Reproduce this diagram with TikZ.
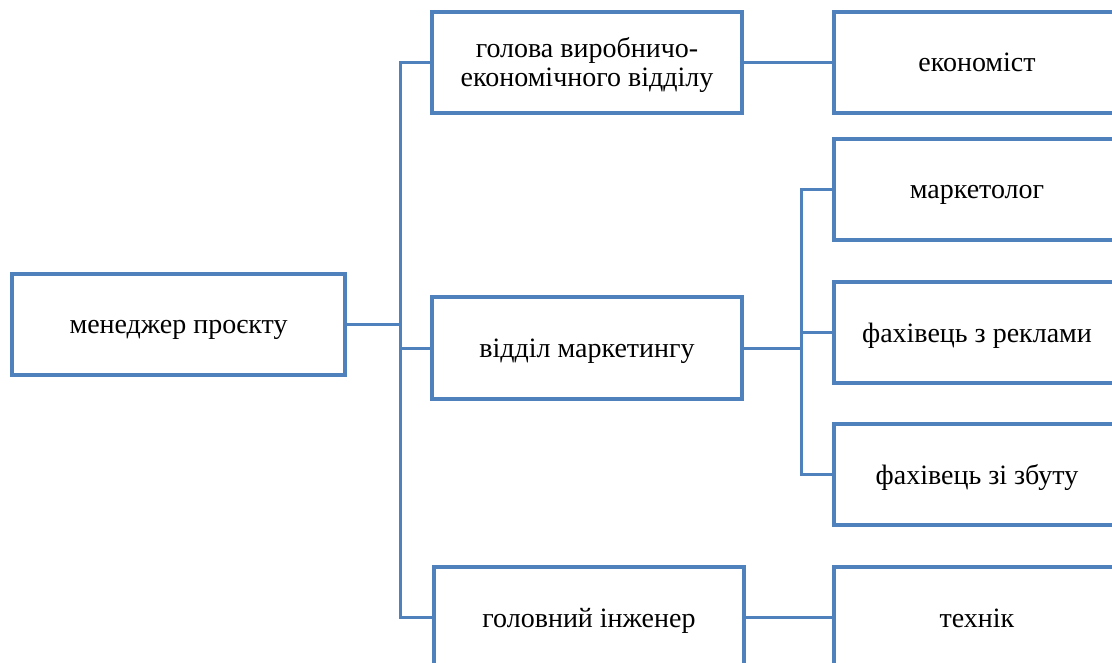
\documentclass[tikz,border=0pt]{standalone}
\usepackage{fontspec}
\setmainfont{Liberation Serif}
\definecolor{boxblue}{RGB}{79,129,189}
\begin{document}
\begin{tikzpicture}[x=1pt,y=-1pt,
  box/.style={draw=boxblue,line width=4pt,fill=white,minimum height=101pt,
    inner sep=0pt,outer sep=0pt,font=\fontsize{28}{29}\selectfont,
    text height=19pt,text depth=0pt},
  rootbox/.style={box,minimum width=333pt},
  midbox/.style={box,minimum width=310pt},
  leafbox/.style={box,minimum width=286pt},
  link/.style={draw=boxblue,line width=3pt}]
\useasboundingbox (0,0) rectangle (1112,663);
\clip (0,0) rectangle (1112,663);

% boxes
\node[rootbox] (root) at (178.5,324.5) {менеджер проєкту};
\node[midbox,text depth=28pt] (m1) at (587,62.5)
  {\begin{tabular}[t]{@{}c@{}}голова виробничо-\\економічного відділу\end{tabular}};
\node[midbox] (m2) at (587,348) {відділ маркетингу};
\node[midbox] (m3) at (589,617.5) {головний інженер};
\node[leafbox] (r1) at (977,62.5) {економіст};
\node[leafbox] (r2) at (977,189.5) {маркетолог};
\node[leafbox] (r3) at (977,332.5) {фахівець з реклами};
\node[leafbox] (r4) at (977,474.5) {фахівець зі збуту};
\node[leafbox] (r5) at (977,617.5) {технік};

% connectors from the project manager
\draw[link] (root.east) -- ++(55,0) coordinate (j);
\draw[link] (m1.west) -- ++(-32,0) |- (m3.west);
\draw[link] (j) |- (m2.west);

% connectors to the staff
\draw[link] (m1.east) -- (r1.west);
\draw[link] (m3.east) -- (r5.west);
\draw[link] (m2.east) -- ++(59,0) coordinate (k);
\draw[link] (r2.west) -- ++(-33,0) |- (r4.west);
\draw[link] (k) |- (r3.west);
\end{tikzpicture}
\end{document}
